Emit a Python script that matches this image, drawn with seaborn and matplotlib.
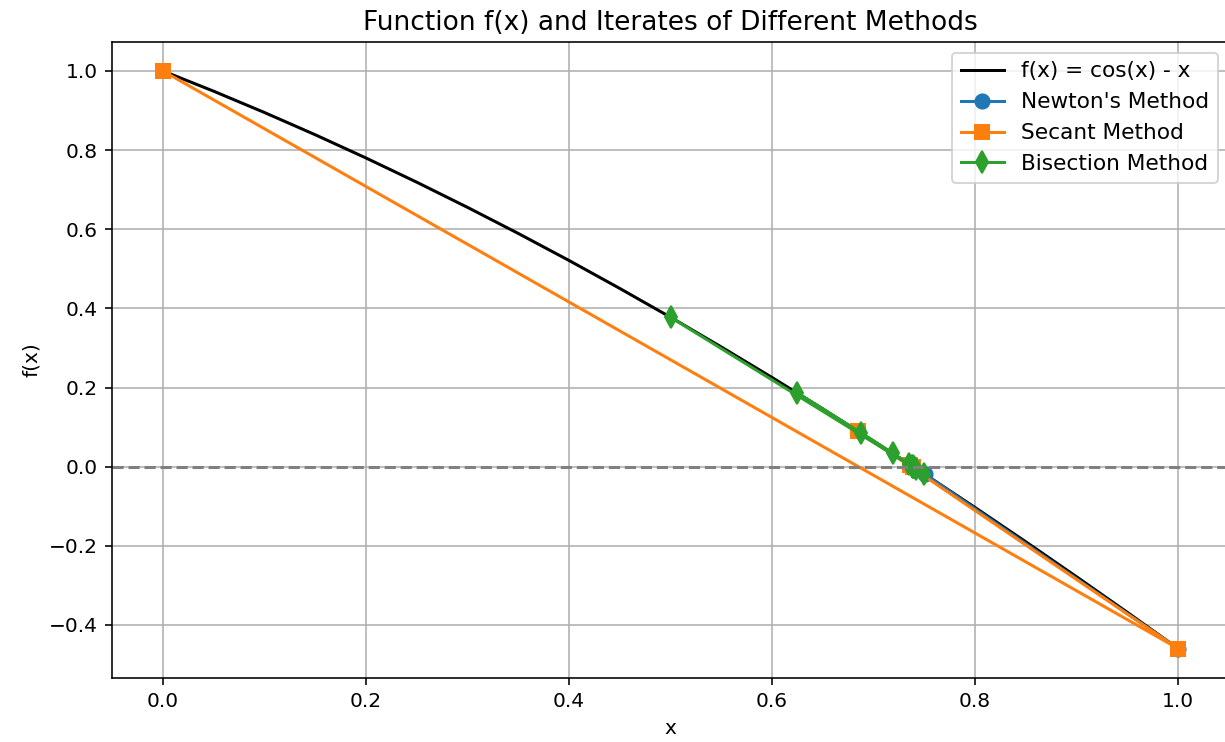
import numpy as np
import pandas as pd
import matplotlib
matplotlib.use('Agg')
import matplotlib.pyplot as plt
import seaborn as sns

# f(x) = cos(x) - x sampled on [0, 1]
curve_x = [0.0, 0.05, 0.1, 0.15, 0.2, 0.25, 0.3, 0.35, 0.4, 0.45, 0.5,
           0.55, 0.6, 0.65, 0.7, 0.75, 0.8, 0.85, 0.9, 0.95, 1.0]
curve_y = [1.0, 0.9488, 0.8950, 0.8388, 0.7801, 0.7189, 0.6553, 0.5894, 0.5211, 0.4504, 0.3776,
           0.3025, 0.2253, 0.1461, 0.0648, -0.0183, -0.1033, -0.1900, -0.2784, -0.3683, -0.4597]

# iterates of each method
newton_x = [1.0, 0.7504, 0.7391, 0.7391]
newton_y = [-0.4597, -0.0189, -0.0000, 0.0]

secant_x = [0.0, 1.0, 0.6851, 0.7363, 0.7391, 0.7391]
secant_y = [1.0, -0.4597, 0.0893, 0.0047, -0.0001, 0.0]

bisect_x = [0.5, 0.75, 0.625, 0.6875, 0.71875, 0.7344, 0.7422, 0.7383, 0.7402, 0.7393, 0.7388, 0.7390, 0.7391]
bisect_y = [0.3776, -0.0183, 0.1860, 0.0853, 0.0339, 0.0079, -0.0052, 0.0013, -0.0019, -0.0003, 0.0005, 0.0001, 0.0]

DPI = 145
fig = plt.figure(figsize=(1225 / DPI, 742 / DPI), dpi=DPI)
ax = fig.add_axes([112 / 1225, 1 - 677.5 / 742, (1229 - 112) / 1225, (677.5 - 42) / 742])

sns.lineplot(x=curve_x, y=curve_y, ax=ax, color='black', label='f(x) = cos(x) - x',
             sort=False, estimator=None)
sns.lineplot(x=newton_x, y=newton_y, ax=ax, color='C0', marker='o', label="Newton's Method",
             sort=False, estimator=None, markersize=7, markeredgecolor='C0', markeredgewidth=1)
sns.lineplot(x=secant_x, y=secant_y, ax=ax, color='C1', marker='s', label='Secant Method',
             sort=False, estimator=None, markersize=7, markeredgecolor='C1', markeredgewidth=1)
sns.lineplot(x=bisect_x, y=bisect_y, ax=ax, color='C2', marker='d', label='Bisection Method',
             sort=False, estimator=None, markersize=7.5, markeredgecolor='C2', markeredgewidth=1)

ax.axhline(0, color='gray', linestyle='--')
ax.set_xlim(-0.05, 1.05)
ax.set_ylim(-0.5327, 1.073)
ax.set_title('Function f(x) and Iterates of Different Methods', fontsize=13.1)
ax.set_xlabel('x')
ax.set_ylabel('f(x)')
ax.grid(True)
ax.legend(loc='upper right', fontsize=10.75)

fig.savefig('out.png', dpi=DPI)
